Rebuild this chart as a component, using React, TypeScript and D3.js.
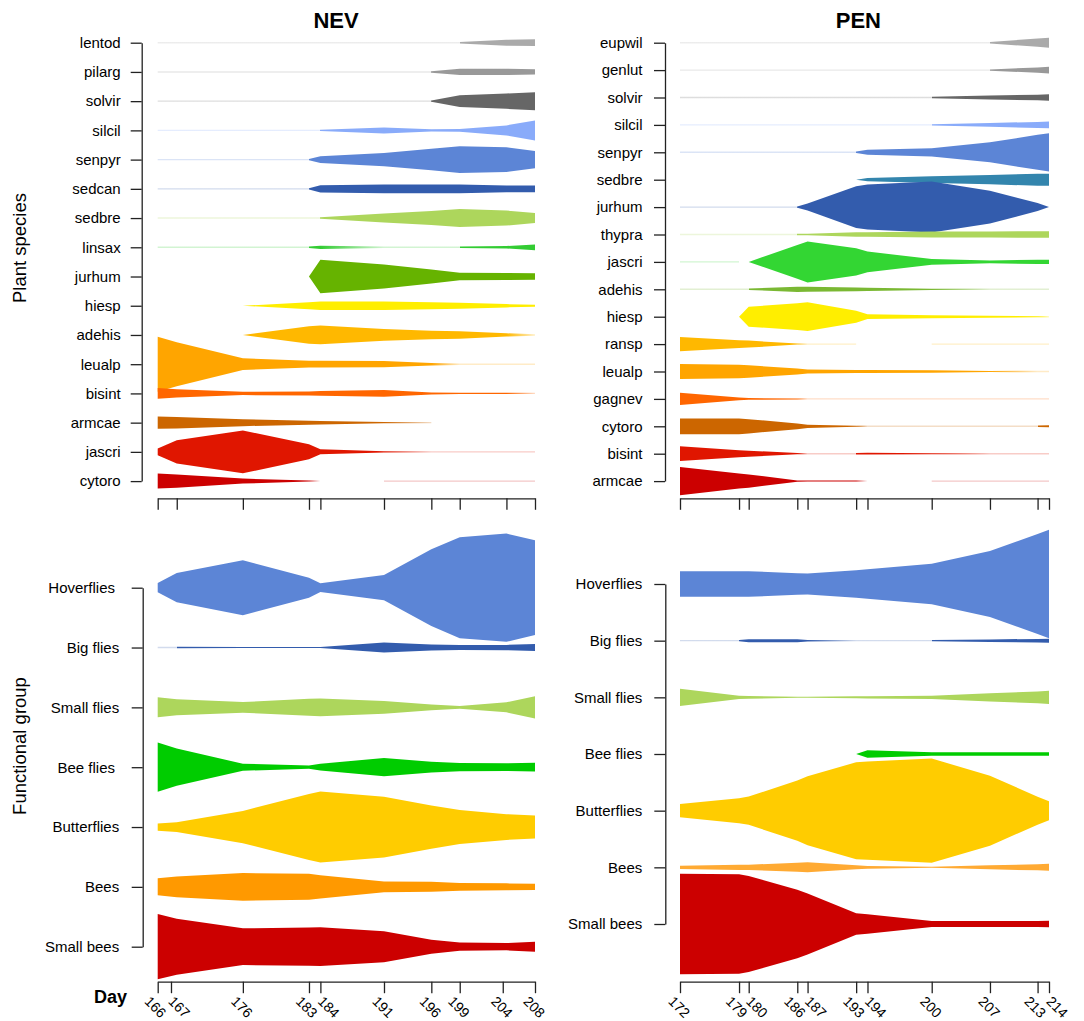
import React, { useEffect, useRef } from "react";
import * as d3 from "d3";

const FONT = "'Liberation Sans', Arial, Helvetica, sans-serif";

// ---------- NEV ----------
// mean day of each sampling round (tick labels are the rounded days)
const nevDays = [166, 168.12, 175.48, 182.84, 184.11, 191.19, 196.46, 199.62, 204.82, 208];
const nevBottomTickDays = [166, 167.48, 175.48, 182.84, 184.11, 191.19, 196.46, 199.62, 204.41, 208];
const nevDayLabels = ["166", "167", "176", "183", "184", "191", "196", "199", "204", "208"];

const nevPlants = ["lentod", "pilarg", "solvir", "silcil", "senpyr", "sedcan", "sedbre", "linsax",
  "jurhum", "hiesp", "adehis", "leualp", "bisint", "armcae", "jascri", "cytoro"];
const nevPlantColors = ["#aaaaaa", "#999999", "#666666", "#89abfa", "#5c85d6", "#335cad", "#add65c", "#33cc33",
  "#66b300", "#ffee00", "#ffb800", "#ffa500", "#ff6600", "#cc6600", "#e01600", "#cc0000"];
const N = null;
// null = not recorded, 0 = recorded absent (thin faint line)
const nevPlantValues = [
  [0, 0, 0, 0, 0, 0, 0, 0, 6, 6.7],
  [0, 0, 0, 0, 0, 0, 0, 6.3, 6.3, 5.3],
  [0, 0, 0, 0, 0, 0, 0, 11.7, 15.3, 18],
  [0, 0, 0, 0, 0, 6, 2.3, 2.7, 10, 20],
  [0, 0, 0, 0, 6.7, 13.3, 21.5, 26.7, 24.7, 17.3],
  [0, 0, 0, 0, 7.3, 8.7, 8.7, 8.7, 6.7, 6.7],
  [0, 0, 0, 0, 0, 9, 14, 18, 15, 10],
  [0, 0, 0, 0, 3.3, 0, 0, 0, 2.5, 5.7],
  [N, N, N, N, 33.3, 24, 14, 7.7, 7, 6.7],
  [N, N, N, 7, 8.3, 8.3, 7, 6, 3.3, 2],
  [N, N, N, 17.5, 18.7, 11.7, 8.5, 7.5, 3.3, 0],
  [55, 44, 11.7, 6.7, 6.7, 6.3, 2.5, 0, 0, 0],
  [10.7, 8.3, 3.3, 4, 4.7, 6.7, 2, 1.2, 1.2, 0],
  [12.3, 11.5, 7, 4, 3.5, 1.2, 0, N, N, N],
  [6.7, 23.3, 42.7, 15, 5, 1.3, 0, 0, 0, 0],
  [15, 13.3, 5, 1, N, 0, 0, 0, 0, 0],
];

// ---------- PEN ----------
const penDays = [172, 178.72, 179.82, 185.35, 186.52, 192.05, 193.34, 200.65, 207.28, 212.7, 214];
const penDayLabels = ["172", "179", "180", "186", "187", "193", "194", "200", "207", "213", "214"];

const penPlants = ["eupwil", "genlut", "solvir", "silcil", "senpyr", "sedbre", "jurhum", "thypra", "jascri",
  "adehis", "hiesp", "ransp", "leualp", "gagnev", "cytoro", "bisint", "armcae"];
const penPlantColors = ["#aaaaaa", "#999999", "#666666", "#89abfa", "#5c85d6", "#3385ad", "#335cad", "#add65c",
  "#33d633", "#7ab833", "#ffee00", "#ffb800", "#ffa500", "#ff6600", "#cc6600", "#e01600", "#cc0000"];
const penPlantValues = [
  [0, 0, 0, 0, 0, 0, 0, 0, 0, 8.3, 10],
  [0, 0, 0, 0, 0, 0, 0, 0, 0, 5.3, 6.7],
  [0, 0, 0, 0, 0, 0, 0, 0, 4, 5.7, 6.7],
  [0, 0, 0, 0, 0, 0, 0, 0, 3.7, 6, 6.7],
  [0, 0, 0, 0, 0, 0, 5, 8.3, 20, 35, 38.3],
  [N, N, N, N, N, N, 3.3, 6.7, 9.3, 12, 12],
  [0, 0, 0, 0, 7, 41.7, 45, 51, 32.7, 8, N],
  [0, 0, 0, 0, 1.5, 4.5, 4.7, 6, 6, 6.7, 6.7],
  [0, 0, N, 33.7, 41, 27.3, 20.7, 5.7, 2.7, 4.3, 4.3],
  [0, 0, 0, 5.3, 5, 3.7, 3.3, 1.3, 0, 0, 0],
  [N, N, 20, 26.7, 28.7, 12, 4.7, 3, 2, 1, 0],
  [14.3, 7.7, 7, 1, 0, 0, N, 0, 0, 0, 0],
  [15, 13.7, 12.3, 6, 4, 3, 3, 2.7, 1.2, 0, 0],
  [12.3, 2.7, 1.7, 1, 0, 0, 0, 0, 0, 0, 0],
  [15.7, 15.7, 14.3, 5.7, 3.3, 0.7, 0, 0, 0, 0, 2],
  [14.7, 7, 6, 1.3, 0, 0, 1.7, 0.7, 0, 0, 0],
  [28.3, 15, 13.3, 1.3, 1, 1, N, 0, 0, 0, 0],
];

// ---------- functional groups ----------
const nevGroups = ["Hoverflies ", "Big flies", "Small flies", "Bee flies ", "Butterflies", "Bees", "Small bees"];
const penGroups = ["Hoverflies", "Big flies", "Small flies", "Bee flies", "Butterflies", "Bees", "Small bees"];
const nevGroupColors = ["#5c85d6", "#335cad", "#add65c", "#00cc00", "#ffcc00", "#ff9900", "#cc0000"];
const penGroupColors = ["#5c85d6", "#335cad", "#add65c", "#00cc00", "#ffcc00", "#ffaa33", "#cc0000"];
const nevGroupValues = [
  [9.3, 29.3, 55, 20, 8.7, 25.3, 76.7, 101, 108.3, 94.7],
  [0, 0, 1, 1, 0.7, 10, 6, 5, 5.3, 7],
  [20, 16, 10.7, 17, 17.7, 12.7, 5.7, 2.7, 10, 22.3],
  [49.3, 37.3, 7, 3.3, 6.7, 18.3, 10.7, 8.3, 7.7, 8.7],
  [7.3, 9.7, 32.3, 66, 71, 60.7, 43.3, 34, 25.7, 23],
  [17, 20.7, 27.7, 26, 23.3, 10.7, 10, 7.7, 7, 6.3],
  [65.3, 56, 36.7, 38.3, 38.7, 31, 14, 8.3, 7.3, 10],
];
const penGroupValues = [
  [25.7, 25.7, 25.7, 21.7, 21, 27.3, 29.7, 40.7, 66, 100, 108.3],
  [0, 0, 3, 3, 1.5, 0, 0, 0, 2.5, 3.5, 4],
  [17.3, 3.3, 2.7, 0.7, 1, 2, 2.3, 3.3, 8.3, 11.7, 13.3],
  [N, N, N, N, N, N, 7.3, 3.3, 3.3, 3.3, 3.3],
  [13.3, 25, 28.3, 60.3, 69, 97, 98.3, 104.3, 70, 28, 19],
  [3.3, 5.3, 5.3, 9, 10, 4, 2.7, 0.7, 4, 6, 7],
  [100.7, 99.3, 96, 68.3, 61, 21.7, 19.3, 6, 6, 6, 6.3],
];

// band thickness scale (value units -> px)
const bandWidth = d3.scaleLinear().domain([0, 100]).range([0, 100]);
const FAINT_OP = 0.22;
const FAINT_W = 1.4;
const MIN_W = 1;

function drawBand(g, defs, values, color, days, x, cy, id) {
  const area = d3
    .area()
    .x((d) => d.x)
    .y0((d) => cy - d.h)
    .y1((d) => cy + d.h);
  const op = (v) => (v == null ? null : v > 0 ? 1 : FAINT_OP);
  const half = (v) => (v == null ? 0 : v > 0 ? Math.max(bandWidth(v), MIN_W) / 2 : FAINT_W / 2);

  // contiguous drawn stretches, each one path with its own opacity ramp
  const runs = [];
  let run = null;
  for (let i = 0; i < values.length - 1; i++) {
    const a = values[i];
    const b = values[i + 1];
    if ((a == null && (b == null || b === 0)) || (b == null && a === 0)) {
      run = null;
      continue;
    }
    // appearing species grow as a solid wedge, disappearing ones fade out
    const oa = a === 0 && b > 0 ? 1 : op(a) ?? op(b);
    const ob = op(b) ?? op(a);
    const pa = { x: x(days[i]), h: half(a), o: oa };
    const pb = { x: x(days[i + 1]), h: half(b), o: ob };
    if (!run) {
      run = [pa, pb];
      runs.push(run);
    } else {
      if (run[run.length - 1].o !== pa.o) run.push(pa);
      run.push(pb);
    }
  }

  runs.forEach((pts, r) => {
    const path = g.append("path").attr("d", area(pts));
    const ops = pts.map((p) => p.o);
    if (ops.every((o) => o === ops[0])) {
      path.attr("fill", color).attr("fill-opacity", ops[0]);
      return;
    }
    const x0 = pts[0].x;
    const x1 = pts[pts.length - 1].x;
    const gid = `grad-${id}-${r}`;
    const lg = defs
      .append("linearGradient")
      .attr("id", gid)
      .attr("gradientUnits", "userSpaceOnUse")
      .attr("x1", x0)
      .attr("x2", x1)
      .attr("y1", 0)
      .attr("y2", 0);
    pts.forEach((p) =>
      lg.append("stop")
        .attr("offset", (p.x - x0) / (x1 - x0))
        .attr("stop-color", color)
        .attr("stop-opacity", p.o)
    );
    path.attr("fill", `url(#${gid})`);
  });
}

function drawPanel(svg, defs, p) {
  const x = d3.scaleLinear().domain([p.days[0], p.days[p.days.length - 1]]).range(p.xRange);
  const y = d3.scalePoint().domain(p.names).range(p.yRange);
  const g = svg.append("g");

  p.names.forEach((name, i) => drawBand(g, defs, p.values[i], p.colors[i], p.days, x, y(name), `${p.id}-${i}`));

  // y axis
  g.append("g")
    .attr("transform", `translate(${p.yAxisX},0)`)
    .call(d3.axisLeft(y).tickSize(11).tickSizeOuter(0).tickPadding(p.pad))
    .attr("font-size", 15)
    .attr("font-family", FONT)
    .call((s) => s.selectAll("text").attr("fill", "#000").style("white-space", "pre"))
    .call((s) => s.selectAll("line,path").attr("stroke", "#222").attr("stroke-width", 1.3));

  // x axis
  const ticks = p.tickDays;
  g.append("g")
    .attr("transform", `translate(0,${p.xAxisY})`)
    .call(d3.axisBottom(x).tickValues(ticks).tickSize(11.5).tickSizeOuter(0).tickFormat(() => ""))
    .call((s) => s.selectAll("line,path").attr("stroke", "#222").attr("stroke-width", 1.3));

  if (p.tickLabels) {
    ticks.forEach((d, i) => {
      const t = x(d);
      const nextClose = i < ticks.length - 1 && x(ticks[i + 1]) - t < 15;
      const prevClose = i > 0 && t - x(ticks[i - 1]) < 15;
      const off = nextClose ? 14 : prevClose ? 3.5 : 12.5;
      g.append("text")
        .attr("transform", `translate(${t - off},${p.xAxisY + 20.5}) rotate(45)`)
        .attr("font-size", 14)
        .attr("font-family", FONT)
        .attr("fill", "#000")
        .text(p.tickLabels[i]);
    });
  }
}

export default function App() {
  const svgRef = useRef(null);

  useEffect(() => {
    document.body.style.margin = "0";
    const svg = d3.select(svgRef.current);
    svg.selectAll("*").remove();
    const defs = svg.append("defs");

    drawPanel(svg, defs, {
      id: "nevp", days: nevDays, tickDays: nevDays, names: nevPlants, colors: nevPlantColors,
      values: nevPlantValues, xRange: [157.7, 535], yRange: [42.7, 481.1], yAxisX: 141.7, xAxisY: 498.3, pad: 10,
    });
    drawPanel(svg, defs, {
      id: "penp", days: penDays, tickDays: penDays, names: penPlants, colors: penPlantColors,
      values: penPlantValues, xRange: [680, 1049], yRange: [42.7, 481.1], yAxisX: 665, xAxisY: 498.3, pad: 11.5,
    });
    drawPanel(svg, defs, {
      id: "nevg", days: nevDays, tickDays: nevBottomTickDays, tickLabels: nevDayLabels, names: nevGroups,
      colors: nevGroupColors, values: nevGroupValues, xRange: [157.7, 535], yRange: [587.7, 946.7],
      yAxisX: 142.7, xAxisY: 981.7, pad: 12.5,
    });
    drawPanel(svg, defs, {
      id: "peng", days: penDays, tickDays: penDays, tickLabels: penDayLabels, names: penGroups,
      colors: penGroupColors, values: penGroupValues, xRange: [680, 1049], yRange: [584, 924],
      yAxisX: 665.3, xAxisY: 981.7, pad: 12,
    });

    const titles = svg.append("g").attr("font-family", FONT).attr("fill", "#000");
    titles.append("text").attr("x", 336).attr("y", 28).attr("text-anchor", "middle")
      .attr("font-size", 22).attr("font-weight", "bold").text("NEV");
    titles.append("text").attr("x", 858.4).attr("y", 28).attr("text-anchor", "middle")
      .attr("font-size", 22).attr("font-weight", "bold").text("PEN");
    titles.append("text").attr("transform", "translate(25.5,248) rotate(-90)").attr("text-anchor", "middle")
      .attr("font-size", 18.5).text("Plant species");
    titles.append("text").attr("transform", "translate(25.5,746) rotate(-90)").attr("text-anchor", "middle")
      .attr("font-size", 18.5).text("Functional group");
    titles.append("text").attr("x", 94).attr("y", 1003).attr("font-size", 18).attr("font-weight", "bold").text("Day");
  }, []);

  return (
    <svg ref={svgRef} width={1084} height={1021} style={{ display: "block", background: "#fff" }} />
  );
}
